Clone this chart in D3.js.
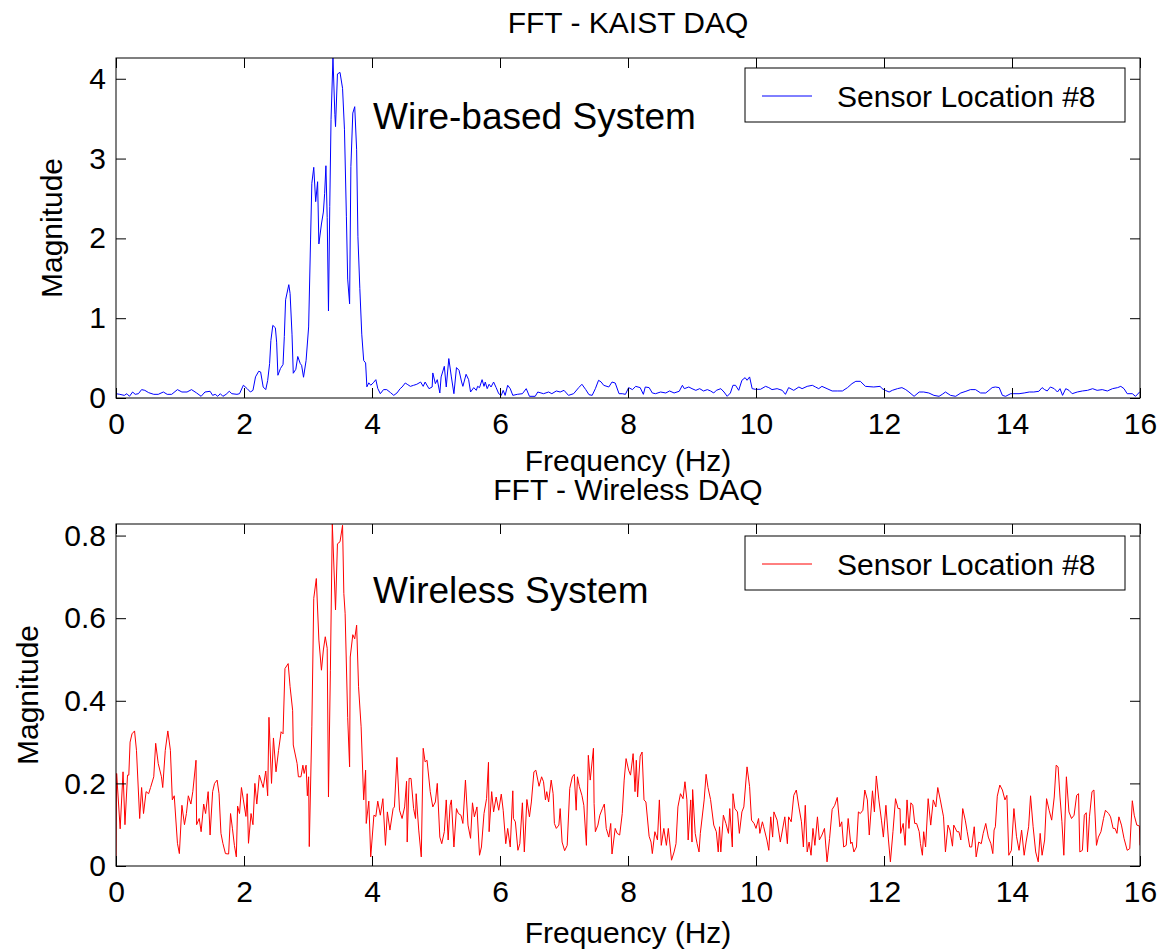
<!DOCTYPE html>
<html>
<head>
<meta charset="utf-8">
<script src="https://cdn.jsdelivr.net/npm/d3@7"></script>
<style>
  body { margin: 0; background: #fff; }
  text { font-family: "Liberation Sans", Arial, sans-serif; fill: #000; }
</style>
</head>
<body>
<div id="chart"></div>
<script>

// ---- data (frequency in Hz, FFT magnitude) ----
var wiredFreq = [0,0.06,0.13,0.17,0.21,0.26,0.3,0.35,0.4,0.45,0.51,0.59,0.66,0.74,0.8,0.87,0.96,1.03,1.11,1.18,1.26,1.33,1.39,1.47,1.51,1.55,1.59,1.63,1.67,1.72,1.77,1.81,1.89,1.93,1.99,2.05,2.1,2.14,2.18,2.23,2.26,2.3,2.34,2.37,2.4,2.42,2.45,2.49,2.51,2.53,2.57,2.61,2.63,2.65,2.7,2.72,2.75,2.77,2.81,2.84,2.88,2.9,2.93,2.97,3.01,3.04,3.06,3.09,3.12,3.15,3.17,3.21,3.24,3.26,3.28,3.3,3.32,3.34,3.36,3.39,3.42,3.43,3.46,3.5,3.54,3.57,3.6,3.62,3.65,3.67,3.7,3.73,3.76,3.78,3.81,3.84,3.87,3.9,3.92,3.95,3.98,4.02,4.06,4.09,
  4.13,4.18,4.23,4.29,4.34,4.39,4.44,4.47,4.52,4.55,4.6,4.65,4.7,4.76,4.8,4.83,4.89,4.94,4.95,4.99,5.02,5.06,5.08,5.13,5.16,5.2,5.24,5.28,5.32,5.36,5.4,5.42,5.47,5.51,5.54,5.59,5.63,5.65,5.68,5.72,5.75,5.77,5.8,5.83,5.86,5.9,5.94,5.98,6.02,6.05,6.08,6.12,6.16,6.2,6.27,6.35,6.41,6.46,6.55,6.59,6.68,6.76,6.81,6.88,6.94,7.0,7.07,7.15,7.23,7.28,7.34,7.39,7.44,7.49,7.54,7.58,7.62,7.7,7.75,7.8,7.86,7.91,7.96,8.01,8.07,8.12,8.19,8.24,8.27,8.33,8.38,8.43,8.51,8.59,8.65,8.72,8.8,8.85,8.88,8.95,9.0,9.06,9.12,9.18,9.24,9.29,9.34,9.38,9.45,9.5,9.55,9.6,9.64,9.68,9.73,9.78,9.83,9.86,9.9,9.94,9.99,10.07,
  10.15,10.2,10.25,10.33,10.41,10.46,10.51,10.59,10.67,10.72,10.8,10.88,10.93,10.98,11.03,11.11,11.19,11.27,11.35,11.43,11.5,11.56,11.63,11.71,11.84,11.94,11.97,12.02,12.08,12.13,12.21,12.28,12.34,12.39,12.47,12.55,12.62,12.7,12.78,12.86,12.91,12.96,13.04,13.12,13.2,13.28,13.35,13.43,13.51,13.59,13.64,13.69,13.74,13.8,13.85,13.9,13.98,14.03,14.11,14.19,14.27,14.34,14.42,14.47,14.51,14.55,14.6,14.66,14.71,14.75,14.79,14.84,14.89,14.94,15.02,15.1,15.18,15.26,15.33,15.41,15.49,15.57,15.65,15.7,15.75,15.8,15.88,15.93,16.0];
var wiredMag = [0.054,0.046,0.033,0.054,0.021,0.075,0.046,0.054,0.105,0.096,0.067,0.046,0.046,0.075,0.046,0.046,0.105,0.075,0.075,0.105,0.063,0.021,0.075,0.084,0.033,0.046,0.021,0.054,0.021,0.046,0.084,0.054,0.046,0.054,0.16,0.117,0.075,0.096,0.265,0.335,0.326,0.138,0.105,0.22,0.43,0.72,0.91,0.88,0.7,0.285,0.37,0.42,0.77,1.23,1.42,1.31,0.8,0.31,0.36,0.52,0.43,0.41,0.26,0.47,0.89,1.98,2.69,2.89,2.46,2.71,1.93,2.18,2.33,2.56,2.91,2.26,1.09,2.4,3.49,4.26,3.55,3.4,4.06,4.08,3.88,3.36,2.27,1.49,1.18,2.9,3.57,3.65,3.11,2.02,1.37,0.8,0.47,0.44,0.14,0.19,0.16,0.19,0.23,0.12,
  0.054,0.105,0.105,0.067,0.033,0.063,0.117,0.138,0.188,0.172,0.146,0.159,0.172,0.2,0.146,0.2,0.117,0.138,0.314,0.18,0.23,0.063,0.264,0.397,0.138,0.494,0.264,0.054,0.381,0.347,0.201,0.146,0.297,0.23,0.075,0.13,0.096,0.146,0.13,0.23,0.146,0.2,0.117,0.172,0.138,0.2,0.13,0.054,0.033,0.096,0.033,0.159,0.117,0.033,0.046,0.054,0.117,0.021,0.021,0.075,0.054,0.075,0.054,0.088,0.075,0.096,0.033,0.054,0.13,0.172,0.105,0.042,0.033,0.117,0.222,0.201,0.159,0.138,0.2,0.188,0.054,0.054,0.046,0.13,0.105,0.146,0.13,0.046,0.138,0.13,0.063,0.054,0.075,0.063,0.088,0.063,0.084,0.159,0.117,0.138,0.117,0.096,0.117,0.088,0.105,0.088,0.063,0.096,0.117,0.075,0.021,0.063,0.159,0.159,0.096,0.222,0.255,0.222,0.264,0.117,0.109,0.109,
  0.146,0.13,0.105,0.117,0.096,0.046,0.13,0.096,0.138,0.117,0.146,0.159,0.138,0.117,0.146,0.117,0.088,0.088,0.088,0.13,0.18,0.209,0.209,0.146,0.138,0.146,0.117,0.096,0.075,0.096,0.117,0.13,0.105,0.075,0.021,0.075,0.075,0.063,0.033,0.021,0.046,0.075,0.033,0.021,0.063,0.084,0.105,0.105,0.063,0.063,0.096,0.13,0.138,0.13,0.033,0.021,0.054,0.054,0.054,0.063,0.075,0.075,0.084,0.13,0.105,0.088,0.138,0.117,0.075,0.117,0.033,0.117,0.096,0.054,0.075,0.088,0.096,0.117,0.096,0.105,0.088,0.117,0.13,0.146,0.117,0.054,0.054,0.021,0.08];

var wirelessFreq = [0,0.01,0.065,0.11,0.14,0.18,0.2,0.22,0.25,0.29,0.32,0.37,0.4,0.43,0.47,0.51,0.54,0.59,0.62,0.66,0.71,0.73,0.77,0.81,0.85,0.88,0.91,0.96,0.99,1.03,1.07,1.1,1.13,1.17,1.2,1.25,1.26,1.3,1.33,1.37,1.4,1.44,1.47,1.51,1.54,1.58,1.61,1.64,1.67,1.71,1.76,1.79,1.82,1.85,1.88,1.9,1.93,1.96,1.99,2.03,2.05,2.07,2.11,2.14,2.17,2.2,2.24,2.28,2.3,2.34,2.37,2.39,2.43,2.46,2.5,2.54,2.58,2.61,2.64,2.69,2.72,2.76,2.77,2.83,2.85,2.89,2.92,2.94,2.97,2.99,3.01,3.02,3.06,3.09,3.13,3.17,3.21,3.24,3.27,3.3,3.32,3.35,3.38,3.43,3.46,3.5,3.54,3.56,3.58,3.62,3.65,3.66,3.7,3.73,3.76,3.79,3.83,3.87,3.9,3.91,3.95,3.98,4.03,4.06,4.09,
  4.13,4.17,4.21,4.24,4.28,4.33,4.35,4.39,4.43,4.47,4.51,4.54,4.55,4.58,4.61,4.65,4.68,4.69,4.73,4.77,4.8,4.83,4.86,4.91,4.95,4.99,5.02,5.06,5.09,5.13,5.16,5.19,5.22,5.24,5.28,5.32,5.35,5.39,5.42,5.46,5.5,5.54,5.57,5.6,5.64,5.68,5.71,5.75,5.79,5.82,5.83,5.87,5.9,5.94,5.98,6.02,6.05,6.09,6.12,6.16,6.2,6.21,6.24,6.28,6.31,6.35,6.38,6.42,6.46,6.49,6.53,6.56,6.61,6.65,6.68,6.71,6.73,6.76,6.8,6.83,6.85,6.88,6.92,6.94,6.97,7.01,7.05,7.09,7.13,7.16,7.19,7.21,7.24,7.28,7.31,7.35,7.38,7.41,7.46,7.47,7.49,7.53,7.56,7.6,7.63,7.66,7.7,7.73,7.75,7.8,7.83,7.87,7.91,7.94,7.97,8.01,8.04,8.08,8.11,8.13,8.15,8.19,8.22,8.25,8.28,8.33,8.36,8.38,8.42,8.46,8.49,8.52,8.56,8.6,8.63,8.68,8.72,8.75,8.78,8.82,8.86,8.89,8.92,8.94,8.98,9.0,9.01,9.05,9.08,9.11,9.13,9.19,9.22,9.25,9.29,9.34,9.38,9.41,9.43,9.45,9.49,9.53,9.57,9.59,9.63,9.64,9.67,9.71,9.74,9.78,9.81,9.86,9.9,9.93,9.97,10.0,10.04,10.06,10.1,10.12,10.17,10.2,10.23,10.26,10.28,10.33,10.38,
  10.45,10.49,10.51,10.55,10.59,10.63,10.67,10.71,10.74,10.77,10.8,10.83,10.86,10.89,10.92,10.96,10.99,11.03,11.07,11.11,11.15,11.19,11.23,11.27,11.31,11.34,11.37,11.41,11.44,11.48,11.5,11.53,11.57,11.6,11.63,11.67,11.7,11.74,11.77,11.82,11.85,11.88,11.92,11.96,11.99,12.03,12.07,12.1,12.14,12.18,12.22,12.25,12.26,12.3,12.33,12.36,12.39,12.42,12.45,12.48,12.51,12.55,12.57,12.6,12.62,12.65,12.69,12.73,12.77,12.81,12.84,12.88,12.93,12.96,13.0,13.03,13.07,13.09,13.14,13.17,13.2,13.23,13.27,13.3,13.34,13.37,13.41,13.44,13.48,13.52,13.55,13.59,13.63,13.67,13.7,13.72,13.74,13.77,13.81,13.85,13.89,13.92,13.95,13.99,14.03,14.07,14.11,14.15,14.19,14.22,14.26,14.29,14.33,14.37,14.41,14.44,14.47,14.51,14.54,14.58,14.62,14.66,14.69,14.72,14.75,14.78,14.81,14.85,14.89,14.93,14.97,15.01,15.04,15.06,15.1,15.13,15.16,15.18,15.21,15.25,15.28,15.32,15.35,15.39,15.43,15.46,15.51,15.54,15.58,15.61,15.64,15.67,15.71,15.75,15.8,15.84,15.88,15.91,15.95,15.99,16.0];
var wirelessMag = [0.006,0.224,0.09,0.228,0.1,0.22,0.22,0.3,0.32,0.327,0.28,0.115,0.19,0.127,0.18,0.175,0.19,0.216,0.297,0.248,0.216,0.19,0.28,0.327,0.28,0.16,0.17,0.055,0.03,0.147,0.1,0.127,0.17,0.15,0.18,0.256,0.1,0.115,0.083,0.15,0.127,0.18,0.075,0.18,0.2,0.208,0.175,0.079,0.055,0.03,0.029,0.127,0.09,0.05,0.022,0.145,0.127,0.19,0.16,0.12,0.175,0.055,0.127,0.1,0.2,0.15,0.22,0.2,0.19,0.23,0.17,0.36,0.2,0.31,0.228,0.28,0.325,0.32,0.478,0.49,0.434,0.377,0.293,0.248,0.216,0.216,0.244,0.224,0.244,0.17,0.216,0.047,0.337,0.648,0.696,0.547,0.474,0.523,0.555,0.527,0.167,0.474,0.828,0.62,0.78,0.785,0.825,0.66,0.612,0.36,0.24,0.506,0.56,0.55,0.583,0.434,0.337,0.16,0.232,0.103,0.157,0.022,0.123,0.12,0.157,
  0.123,0.163,0.05,0.131,0.087,0.139,0.143,0.263,0.135,0.115,0.143,0.205,0.058,0.212,0.212,0.139,0.115,0.175,0.087,0.022,0.285,0.252,0.256,0.18,0.143,0.155,0.2,0.07,0.054,0.083,0.16,0.063,0.147,0.16,0.046,0.139,0.127,0.123,0.103,0.208,0.099,0.067,0.153,0.119,0.143,0.026,0.046,0.127,0.163,0.251,0.083,0.18,0.131,0.167,0.135,0.174,0.135,0.054,0.091,0.046,0.182,0.115,0.107,0.038,0.054,0.153,0.034,0.161,0.119,0.155,0.228,0.232,0.193,0.216,0.204,0.16,0.18,0.155,0.208,0.175,0.103,0.091,0.099,0.139,0.058,0.037,0.05,0.188,0.216,0.222,0.135,0.216,0.192,0.171,0.147,0.05,0.268,0.208,0.285,0.151,0.083,0.099,0.123,0.139,0.15,0.091,0.07,0.103,0.029,0.091,0.079,0.075,0.127,0.208,0.26,0.232,0.22,0.272,0.18,0.256,0.167,0.266,0.276,0.16,0.155,0.072,0.058,0.03,0.083,0.063,0.16,0.05,0.091,0.05,0.091,0.014,0.034,0.054,0.143,0.175,0.163,0.204,0.16,0.063,0.16,0.058,0.185,0.079,0.054,0.034,0.079,0.16,0.222,0.19,0.161,0.099,0.083,0.034,0.095,0.034,0.123,0.103,0.079,0.139,0.046,0.175,0.139,0.131,0.079,0.131,0.143,0.24,0.192,0.111,0.103,0.091,0.115,0.079,0.107,0.095,0.063,0.038,0.119,0.07,0.131,0.111,0.058,
  0.119,0.054,0.119,0.107,0.171,0.184,0.143,0.107,0.046,0.147,0.034,0.058,0.026,0.091,0.05,0.119,0.063,0.075,0.091,0.01,0.067,0.137,0.147,0.166,0.095,0.107,0.046,0.05,0.115,0.054,0.058,0.034,0.046,0.131,0.127,0.135,0.184,0.16,0.075,0.182,0.131,0.218,0.16,0.111,0.07,0.147,0.063,0.01,0.083,0.163,0.139,0.139,0.079,0.103,0.05,0.16,0.091,0.153,0.147,0.103,0.103,0.083,0.054,0.026,0.083,0.046,0.163,0.099,0.16,0.143,0.19,0.16,0.119,0.034,0.099,0.087,0.048,0.099,0.083,0.083,0.063,0.139,0.111,0.083,0.046,0.046,0.095,0.022,0.058,0.054,0.079,0.103,0.07,0.054,0.03,0.087,0.095,0.169,0.196,0.184,0.16,0.171,0.026,0.038,0.139,0.072,0.038,0.087,0.026,0.058,0.095,0.17,0.095,0.034,0.01,0.079,0.026,0.063,0.163,0.135,0.111,0.167,0.244,0.24,0.167,0.107,0.026,0.216,0.131,0.115,0.123,0.171,0.175,0.034,0.038,0.123,0.129,0.034,0.119,0.18,0.184,0.05,0.07,0.083,0.115,0.135,0.127,0.119,0.091,0.091,0.079,0.119,0.099,0.067,0.038,0.042,0.158,0.123,0.099,0.097,0.05];

var xTicks = [0, 2, 4, 6, 8, 10, 12, 14, 16];
var wiredYTicks = [0, 1, 2, 3, 4];
var wirelessYTicks = [0, 0.2, 0.4, 0.6, 0.8];
var wiredYMax = 4.26;
var wirelessYMax = 0.828;

var svgWidth = 1163, svgHeight = 951;

var svg = d3.select("#chart")
  .append("svg")
  .attr("width", svgWidth)
  .attr("height", svgHeight);

function drawPanel(p) {
  var x = d3.scaleLinear().domain([0, 16]).range([p.left, p.right]);
  var y = d3.scaleLinear().domain([0, p.yMax]).range([p.bottom, p.top]);
  var g = svg.append("g");

  // clip so the tallest peak stops at the frame like the original
  g.append("clipPath").attr("id", p.id)
    .append("rect")
    .attr("x", p.left).attr("y", p.top)
    .attr("width", p.right - p.left).attr("height", p.bottom - p.top);

  var pts = p.freq.map((f, i) => [f, p.mag[i]]);
  g.append("path")
    .datum(pts)
    .attr("clip-path", `url(#${p.id})`)
    .attr("fill", "none")
    .attr("stroke", p.color)
    .attr("stroke-width", 1)
    .attr("d", d3.line().x(d => x(d[0])).y(d => y(d[1])));

  // axes, MATLAB style: inward ticks on all four sides
  var fontSize = "30px";
  g.append("g")
    .attr("transform", `translate(0, ${p.bottom})`)
    .call(d3.axisBottom(x).tickValues(xTicks).tickSizeInner(-10).tickSizeOuter(0).tickPadding(15));
  g.append("g")
    .attr("transform", `translate(0, ${p.top})`)
    .call(d3.axisTop(x).tickValues(xTicks).tickSizeInner(-10).tickSizeOuter(0).tickFormat(""));
  g.append("g")
    .attr("transform", `translate(${p.left}, 0)`)
    .call(d3.axisLeft(y).tickValues(p.yTicks).tickSizeInner(-10).tickSizeOuter(0).tickPadding(10).tickFormat(d3.format("~g")));
  g.append("g")
    .attr("transform", `translate(${p.right}, 0)`)
    .call(d3.axisRight(y).tickValues(p.yTicks).tickSizeInner(-10).tickSizeOuter(0).tickFormat(""));

  g.selectAll(".domain").remove();
  g.selectAll(".tick line").attr("stroke", "#000");
  g.selectAll(".tick text")
    .style("font-size", fontSize)
    .style("font-family", '"Liberation Sans", Arial, sans-serif')
    .attr("fill", "#000");

  g.append("rect")
    .attr("x", p.left).attr("y", p.top)
    .attr("width", p.right - p.left).attr("height", p.bottom - p.top)
    .attr("fill", "none").attr("stroke", "#000").attr("stroke-width", 1);

  // titles and labels
  var cx = (p.left + p.right) / 2;
  g.append("text").attr("x", cx).attr("y", p.titleY)
    .attr("text-anchor", "middle").style("font-size", fontSize).text(p.title);
  g.append("text").attr("x", cx).attr("y", p.xLabelY)
    .attr("text-anchor", "middle").style("font-size", fontSize).text("Frequency (Hz)");
  g.append("text")
    .attr("transform", `translate(${p.yLabelX}, ${(p.top + p.bottom) / 2}) rotate(-90)`)
    .attr("text-anchor", "middle").style("font-size", fontSize).text("Magnitude");

  g.append("text").attr("x", 373).attr("y", p.noteY)
    .style("font-size", "37px").text(p.note);

  // legend
  var lg = g.append("g").attr("transform", `translate(745, ${p.legendY})`);
  lg.append("rect").attr("width", 380).attr("height", 54)
    .attr("fill", "#fff").attr("stroke", "#000").attr("stroke-width", 1);
  lg.append("line").attr("x1", 17).attr("x2", 67).attr("y1", 28).attr("y2", 28)
    .attr("stroke", p.color).attr("stroke-width", 1);
  lg.append("text").attr("x", 92).attr("y", 39)
    .style("font-size", fontSize).text("Sensor Location #8");
}

drawPanel({
  id: "clipWired", title: "FFT - KAIST DAQ", note: "Wire-based System",
  freq: wiredFreq, mag: wiredMag, color: "#0000ff",
  yMax: wiredYMax, yTicks: wiredYTicks,
  left: 116, right: 1140, top: 58, bottom: 398,
  titleY: 33, xLabelY: 471, yLabelX: 62, noteY: 129, legendY: 68
});

drawPanel({
  id: "clipWireless", title: "FFT - Wireless DAQ", note: "Wireless System",
  freq: wirelessFreq, mag: wirelessMag, color: "#ff0000",
  yMax: wirelessYMax, yTicks: wirelessYTicks,
  left: 116, right: 1140, top: 524, bottom: 866,
  titleY: 500, xLabelY: 943, yLabelX: 38, noteY: 603, legendY: 536
});

</script>
</body>
</html>
